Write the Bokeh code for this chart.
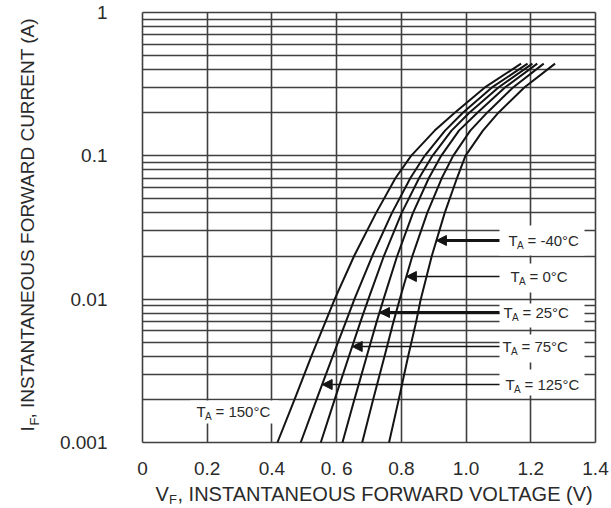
import numpy as np
from bokeh.plotting import figure
from bokeh.models import FixedTicker, Label, BoxAnnotation, Arrow, NormalHead, Range1d
from bokeh.embed import file_html
from bokeh.resources import INLINE

# ---- data ----
current_A = [0.001, 0.002, 0.004, 0.007, 0.01, 0.02, 0.04, 0.07, 0.1, 0.15, 0.2, 0.3, 0.44]
vf_150 = [0.417, 0.470, 0.522, 0.566, 0.594, 0.654, 0.722, 0.782, 0.830, 0.903, 0.965, 1.058, 1.170]
vf_125 = [0.489, 0.538, 0.588, 0.629, 0.655, 0.710, 0.771, 0.828, 0.872, 0.935, 0.990, 1.080, 1.190]
vf_75 = [0.551, 0.594, 0.638, 0.674, 0.698, 0.746, 0.801, 0.855, 0.896, 0.955, 1.010, 1.100, 1.205]
vf_25 = [0.618, 0.655, 0.693, 0.724, 0.745, 0.787, 0.836, 0.885, 0.923, 0.978, 1.035, 1.120, 1.220]
vf_0 = [0.679, 0.713, 0.748, 0.776, 0.795, 0.834, 0.880, 0.925, 0.960, 1.013, 1.065, 1.145, 1.240]
vf_m40 = [0.762, 0.792, 0.821, 0.846, 0.860, 0.894, 0.934, 0.972, 0.998, 1.052, 1.100, 1.180, 1.275]

x_ticks = [0, 0.2, 0.4, 0.6, 0.8, 1.0, 1.2, 1.4]
x_tick_labels = ["0", "0.2", "0.4", "0. 6", "0.8", "1.0", "1.2", "1.4"]
y_ticks = [0.001, 0.01, 0.1, 1]
y_tick_labels = ["0.001", "0.01", "0.1", "1"]

FONT = "Liberation Sans"
GRID = "#3f3f3f"
INK = "#141414"
TXT = "#2a2a2a"

W, H = 611, 508
# chart box in canvas pixels
CL, CT, CW, CH = 142, 12, 453, 430

def px_x(px):
    return (px - CL) / CW * 1.4
def px_y(py):
    return 10 ** (-3.0 * (py - CT) / CH)

# the frame fills the canvas; axes are pinned at the chart's edges
p = figure(width=W, height=H, x_range=Range1d(px_x(0), px_x(W)), y_range=Range1d(px_y(H), px_y(0)),
           y_axis_type="log", output_backend="svg", toolbar_location=None,
           min_border_left=0, min_border_right=0, min_border_top=0, min_border_bottom=0)
p.background_fill_color = "white"
p.border_fill_color = "white"
p.outline_line_color = None

xt = FixedTicker(ticks=x_ticks)
minor = [k * 10.0 ** e for e in (-3, -2, -1) for k in range(2, 10)]
yt = FixedTicker(ticks=y_ticks, minor_ticks=minor)
p.xaxis.ticker = xt
p.xgrid.ticker = xt
p.yaxis.ticker = yt
p.ygrid.ticker = yt
p.xaxis.major_label_overrides = {t: l for t, l in zip(x_ticks, x_tick_labels)}
p.yaxis.major_label_overrides = {t: l for t, l in zip(y_ticks, y_tick_labels)}
p.xaxis.fixed_location = y_ticks[0]
p.yaxis.fixed_location = x_ticks[0]

p.xgrid.cross_bounds = (y_ticks[0], y_ticks[-1])
p.ygrid.cross_bounds = (x_ticks[0], x_ticks[-1])
for g in (p.xgrid, p.ygrid):
    g.grid_line_color = GRID
    g.grid_line_width = 1.6
p.ygrid.minor_grid_line_color = GRID
p.ygrid.minor_grid_line_width = 1.5

for ax in (p.xaxis, p.yaxis):
    ax.axis_line_color = None
    ax.major_tick_line_color = None
    ax.minor_tick_line_color = None
    ax.major_label_text_font = FONT
    ax.major_label_text_font_size = "19px"
    ax.major_label_text_color = TXT
p.xaxis.major_label_standoff = 9
p.yaxis.major_label_standoff = 29

curves = [vf_150, vf_125, vf_75, vf_25, vf_0, vf_m40]
for vf in curves:
    p.line(vf, current_A, line_color=INK, line_width=2)

# ---- temperature labels ----
labels = [
    # text, curve, center y(px), text x(px), box top, box bottom, arrow width
    ("= -40°C", vf_m40, 240, 508, 225, 255, 3),
    ("= 0°C", vf_0, 276, 510, 263, 292, 1.5),
    ("= 25°C", vf_25, 312, 503, 303, 327, 3),
    ("= 75°C", vf_75, 346, 502, 334, 362, 1.5),
    ("= 125°C", vf_125, 384, 505, 369, 395, 1.5),
]
logI = np.log10(current_A)

def txt(x_px, y_px, text, size, angle=0.0):
    p.add_layout(Label(x=px_x(x_px), y=px_y(y_px), text=text, text_font=FONT,
                       text_font_size=size, text_color=TXT, text_baseline="middle", angle=angle))

def ta_label(x_px, y_px, rest):
    txt(x_px, y_px, "T", "15px")
    txt(x_px + 8.5, y_px + 5, "A", "10px")
    txt(x_px + 19, y_px, rest, "15px")

for rest, vf, yc, xt_px, btop, bbot, lw in labels:
    p.add_layout(BoxAnnotation(left=px_x(499), right=px_x(584), top=px_y(btop), bottom=px_y(bbot),
                               fill_color="white", fill_alpha=1, line_color=None))
for rest, vf, yc, xt_px, btop, bbot, lw in labels:
    yv = px_y(yc)
    tip = float(np.interp(np.log10(yv), logI, vf))
    p.add_layout(Arrow(end=NormalHead(size=10, fill_color=INK, line_color=INK),
                       x_start=px_x(499), y_start=yv, x_end=tip, y_end=yv,
                       line_color=INK, line_width=lw))
    ta_label(xt_px, yc, rest)

p.add_layout(BoxAnnotation(left=px_x(190), right=px_x(278), top=px_y(400), bottom=px_y(423),
                           fill_color="white", fill_alpha=1, line_color=None))
ta_label(196, 411, "= 150°C")

# ---- axis titles (with subscripts) ----
txt(155, 493, "V", "20px")
txt(168.5, 499, "F", "13px")
txt(177, 493, ", INSTANTANEOUS FORWARD VOLTAGE (V)", "20px")

txt(27, 431, "I", "19px", np.pi / 2)
txt(34, 425, "F", "13px", np.pi / 2)
txt(27, 418, ", INSTANTANEOUS FORWARD CURRENT (A)", "19px", np.pi / 2)

open("out.html", "w").write(file_html(p, INLINE))
